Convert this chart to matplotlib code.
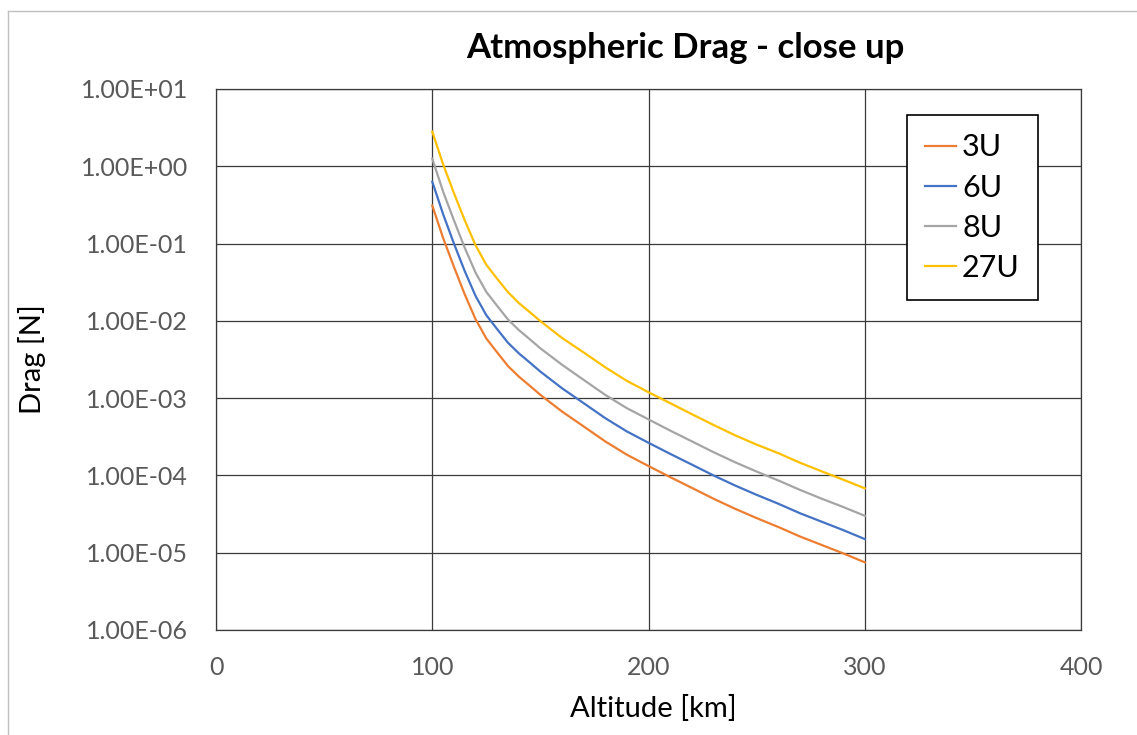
import matplotlib
matplotlib.use("Agg")
import matplotlib.pyplot as plt
from matplotlib.lines import Line2D
from matplotlib.ticker import FuncFormatter, LogLocator, NullLocator

plt.rcParams['font.family'] = ['Lato', 'DejaVu Sans']

# Altitud [km]
altitude = [100, 105, 110, 115, 120, 125, 130, 135, 140, 145, 150, 160, 170, 180, 190, 200,
            210, 220, 230, 240, 250, 260, 270, 280, 290, 300]

drag_3u = [3.1e-1, 1.18e-1, 5.0e-2, 2.2e-2, 1.05e-2, 5.9e-3, 3.9e-3, 2.6e-3, 1.9e-3, 1.45e-3,
           1.1e-3, 6.7e-4, 4.3e-4, 2.75e-4, 1.85e-4, 1.32e-4, 9.5e-5, 6.9e-5, 5.0e-5,
           3.7e-5, 2.8e-5, 2.15e-5, 1.62e-5, 1.26e-5, 9.8e-6, 7.5e-6]
drag_6u = [6.3e-1, 2.4e-1, 1.0e-1, 4.4e-2, 2.1e-2, 1.18e-2, 7.8e-3, 5.2e-3, 3.8e-3, 2.9e-3,
           2.2e-3, 1.34e-3, 8.6e-4, 5.5e-4, 3.7e-4, 2.64e-4, 1.9e-4, 1.38e-4, 1.0e-4,
           7.4e-5, 5.6e-5, 4.3e-5, 3.24e-5, 2.52e-5, 1.96e-5, 1.5e-5]
drag_8u = [1.25e0, 4.7e-1, 2.0e-1, 8.8e-2, 4.2e-2, 2.36e-2, 1.56e-2, 1.04e-2, 7.6e-3, 5.8e-3,
           4.4e-3, 2.7e-3, 1.72e-3, 1.1e-3, 7.4e-4, 5.3e-4, 3.8e-4, 2.76e-4, 2.0e-4,
           1.48e-4, 1.12e-4, 8.6e-5, 6.5e-5, 5.0e-5, 3.9e-5, 3.0e-5]
drag_27u = [2.8e0, 1.06e0, 4.5e-1, 2.0e-1, 9.5e-2, 5.3e-2, 3.5e-2, 2.35e-2, 1.7e-2, 1.3e-2,
            9.9e-3, 6.0e-3, 3.9e-3, 2.5e-3, 1.67e-3, 1.19e-3, 8.6e-4, 6.2e-4, 4.5e-4,
            3.3e-4, 2.5e-4, 1.94e-4, 1.46e-4, 1.13e-4, 8.8e-5, 6.8e-5]

series = [('3U', drag_3u, '#ED7D31'),
          ('6U', drag_6u, '#4472C4'),
          ('8U', drag_8u, '#A5A5A5'),
          ('27U', drag_27u, '#FFC000')]

fig = plt.figure(figsize=(11.37, 7.35), dpi=100)
ax = fig.add_axes([0.19, 0.1429, 0.7608, 0.7361])

for name, vals, col in series:
    ax.plot(altitude, vals, color=col, linewidth=1.6, label=name)

ax.set_yscale('log')
ax.set_xlim(0, 400)
ax.set_ylim(1e-6, 1e1)
ax.set_xticks([0, 100, 200, 300, 400])
ax.yaxis.set_major_locator(LogLocator(base=10, numticks=10))
ax.yaxis.set_minor_locator(NullLocator())
ax.yaxis.set_major_formatter(FuncFormatter(lambda v, p: f"{v:.2E}"))

ax.grid(True, color='#3a3a3a', linewidth=0.9)
for s in ax.spines.values():
    s.set_color('#3a3a3a')
    s.set_linewidth(0.9)
ax.tick_params(length=0, labelsize=18, labelcolor='#595959')
ax.tick_params(axis='y', pad=20)
ax.tick_params(axis='x', pad=19)

fig.text(0.603, 0.935, 'Atmospheric Drag - close up', ha='center', va='center',
         fontsize=25, fontweight='bold')
fig.text(0.5743, 0.0354, 'Altitude [km]', ha='center', va='center', fontsize=21)
fig.text(0.028, 0.511, 'Drag [N]', ha='center', va='center', rotation=90, fontsize=21)

leg = ax.legend(loc='upper left', bbox_to_anchor=(907 / 1137, 1 - 115 / 735),
                bbox_transform=fig.transFigure, fontsize=22, fancybox=False,
                framealpha=1, edgecolor='black', handlelength=1.0,
                handletextpad=0.2, labelspacing=0.4, borderpad=0.6, borderaxespad=0)
leg.get_frame().set_linewidth(1.2)

# marco del area del grafico
fig.add_artist(Line2D([8 / 1137, 8 / 1137], [0, 1 - 11 / 735], color='#bfbfbf', linewidth=1))
fig.add_artist(Line2D([8 / 1137, 1], [1 - 11 / 735, 1 - 11 / 735], color='#bfbfbf', linewidth=1))

fig.savefig('out.png', dpi=100)
